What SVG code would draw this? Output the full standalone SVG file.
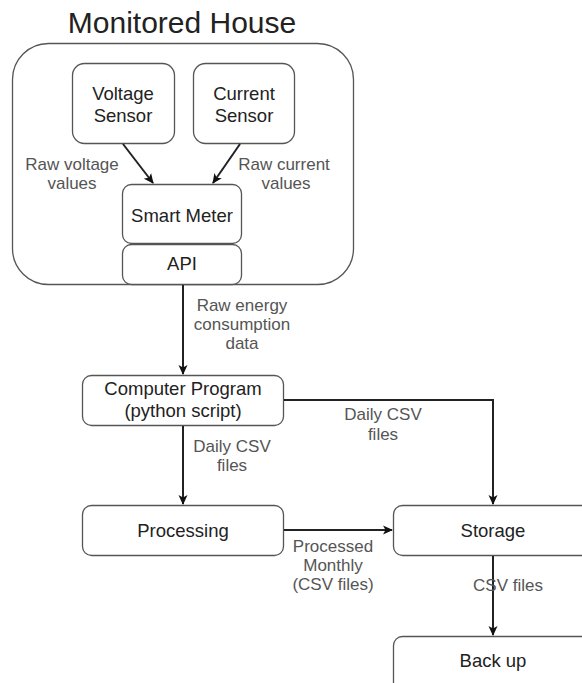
<svg xmlns="http://www.w3.org/2000/svg" width="582" height="683" viewBox="0 0 582 683">
<defs>
<style>
.box{fill:#fff;stroke:#555;stroke-width:1.3}
.nt{font-family:"Liberation Sans",Arial,sans-serif;font-size:18.5px;fill:#222;text-anchor:middle}
.lb{font-family:"Liberation Sans",Arial,sans-serif;font-size:17px;fill:#555;text-anchor:middle}
.ln{fill:none;stroke:#222;stroke-width:2}
</style>
<marker id="ah" markerWidth="10" markerHeight="10" refX="9" refY="5" orient="auto" markerUnits="userSpaceOnUse">
<path d="M0,0.5 L10,5 L0,9.5 L2.5,5 Z" fill="#111"/>
</marker>
</defs>
<rect width="582" height="683" fill="#fff"/>
<g id="house">
<rect class="box" x="12.5" y="43.5" width="341" height="241" rx="36"/>
<text x="182" y="33" font-family="Liberation Sans,Arial,sans-serif" font-size="30" fill="#222" text-anchor="middle">Monitored House</text>
</g>
<g id="voltage">
<rect class="box" x="72.5" y="63.5" width="102" height="80" rx="12"/>
<text class="nt" x="123" y="100">Voltage</text>
<text class="nt" x="123" y="122">Sensor</text>
</g>
<g id="current">
<rect class="box" x="193.5" y="63.5" width="101" height="80" rx="12"/>
<text class="nt" x="244" y="100">Current</text>
<text class="nt" x="244" y="122">Sensor</text>
</g>
<g id="meter">
<rect class="box" x="122.5" y="184.5" width="119" height="59" rx="9"/>
<text class="nt" x="182" y="222">Smart Meter</text>
</g>
<g id="api">
<rect class="box" x="122.5" y="244.5" width="119" height="40" rx="9"/>
<text class="nt" x="182" y="270">API</text>
</g>
<g id="program">
<rect class="box" x="82.5" y="375.5" width="201" height="50" rx="9"/>
<text class="nt" x="183" y="395">Computer Program</text>
<text class="nt" x="183" y="417">(python script)</text>
</g>
<g id="processing">
<rect class="box" x="82.5" y="505.5" width="201" height="50" rx="9"/>
<text class="nt" x="183" y="537">Processing</text>
</g>
<g id="storage">
<rect class="box" x="393.5" y="505.5" width="200" height="50" rx="9"/>
<text class="nt" x="493" y="537">Storage</text>
</g>
<g id="backup">
<rect class="box" x="393.5" y="636.5" width="200" height="60" rx="9"/>
<text class="nt" x="493" y="667">Back up</text>
</g>
<g id="connectors">
<path class="ln" d="M123,144 L153,183" marker-end="url(#ah)"/>
<path class="ln" d="M240,144 L213,183" marker-end="url(#ah)"/>
<path class="ln" d="M183,285 L183,374" marker-end="url(#ah)"/>
<path class="ln" d="M284,400 L493,400 L493,504" marker-end="url(#ah)"/>
<path class="ln" d="M183,426 L183,504" marker-end="url(#ah)"/>
<path class="ln" d="M284,530 L392,530" marker-end="url(#ah)"/>
<path class="ln" d="M493,556 L493,635" marker-end="url(#ah)"/>
<text class="lb" x="72" y="170">Raw voltage</text>
<text class="lb" x="72" y="189">values</text>
<text class="lb" x="284" y="170">Raw current</text>
<text class="lb" x="286" y="189">values</text>
<text class="lb" x="242" y="311">Raw energy</text>
<text class="lb" x="242" y="330">consumption</text>
<text class="lb" x="242" y="349">data</text>
<text class="lb" x="383" y="420">Daily CSV</text>
<text class="lb" x="383" y="440">files</text>
<text class="lb" x="232" y="452">Daily CSV</text>
<text class="lb" x="232" y="471">files</text>
<text class="lb" x="333" y="552">Processed</text>
<text class="lb" x="333" y="571">Monthly</text>
<text class="lb" x="333" y="590">(CSV files)</text>
<text class="lb" x="508" y="591" text-anchor="start">CSV files</text>
</g>
</svg>
